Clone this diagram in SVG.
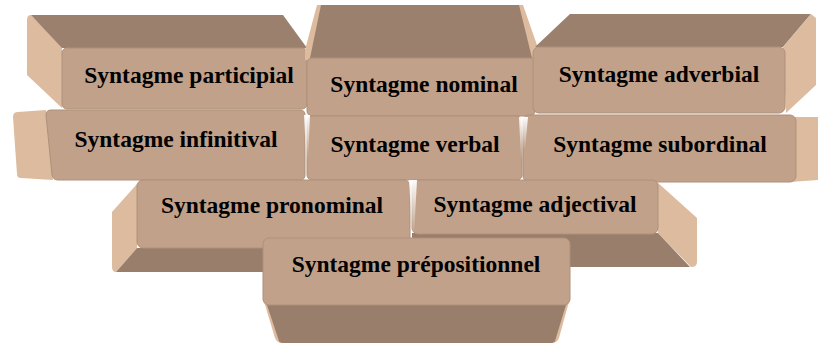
<svg xmlns="http://www.w3.org/2000/svg" width="818" height="345" viewBox="0 0 818 345">
<defs>
<linearGradient id="sideL" x1="0" y1="0" x2="1" y2="0"><stop offset="0" stop-color="#DCBA9C"/><stop offset="1" stop-color="#E2C2A6"/></linearGradient>
<linearGradient id="hl" x1="0" y1="0" x2="0" y2="1"><stop offset="0" stop-color="#FFFFFF" stop-opacity="0.95"/><stop offset="1" stop-color="#FFFFFF" stop-opacity="0"/></linearGradient>
</defs>
<style>
.top{fill:#9B806E}
.bot{fill:#9A7E6C}
.side{fill:#DDBB9E}
.front{fill:#C1A18A;stroke:#AE907B;stroke-width:1}
.lbl{font-family:"Liberation Serif","Times New Roman",serif;font-weight:bold;font-size:23.5px;fill:#000;text-anchor:middle}
.hl{fill:url(#hl)}
</style>
<rect width="818" height="345" fill="#FFFFFF"/>

<g id="n-participial">
<path class="side" d="M31,15 L62,46 L62,108 L27,75 L27,20 Q27,15 31,15 Z"/>
<path class="top" d="M31,15 L283,15 L307,48 L62,48 Z"/>
<rect class="front" x="62" y="48" width="245" height="61" rx="5"/>
<text class="lbl" x="189" y="83">Syntagme participial</text>
</g>

<g id="n-nominal">
<path class="side" d="M317,5 L523,5 L537,45 L537,60 L305,60 L305,50 Z"/>
<path class="top" d="M321,5 L519,5 L532,58 L310,58 Z"/>
<rect class="front" x="307" y="58" width="228" height="58" rx="5"/>
<text class="lbl" x="424" y="92">Syntagme nominal</text>
</g>

<g id="n-adverbial">
<path class="top" d="M570,14 L811,14 L783,47 L535,47 Z"/>
<path class="side" d="M811,14 L816,18 L816,85 L786,113 L783,47 Z"/>
<rect class="front" x="533" y="47" width="252" height="66" rx="6"/>
<text class="lbl" x="659" y="82">Syntagme adverbial</text>
</g>

<g id="n-infinitival">
<path class="side" d="M18,112 L46,110 L53,180 L21,178 Q17,178 17,174 L13,117 Q13,112 18,112 Z"/>
<path class="front" d="M51,110 L300,110 Q305,110 305,115 L305,175 Q305,180 300,180 L58,180 Q53,180 52,175 L46,115 Q46,110 51,110 Z"/>
<text class="lbl" x="176" y="147">Syntagme infinitival</text>
</g>

<g id="n-verbal">
<rect class="front" x="307" y="116" width="215" height="64" rx="5"/>
<path class="hl" d="M304,115 L310,115 L308,160 L306,160 Z"/>
<path class="hl" d="M519,117 L526,117 L523,160 L521,160 Z"/>
<text class="lbl" x="415" y="152">Syntagme verbal</text>
</g>

<g id="n-subordinal">
<path class="side" d="M794,117 L818,117 L818,180 L790,182 Z"/>
<rect class="front" x="523" y="115" width="273" height="67" rx="6"/>
<path class="hl" d="M521,117 L528,117 L525,150 L523,150 Z"/>
<text class="lbl" x="660" y="152">Syntagme subordinal</text>
</g>

<g id="n-pronominal">
<path class="side" d="M137,184 L137,248 L116,272 Q112,272 112,267 L112,212 Z"/>
<path class="bot" d="M137,248 L420,248 L420,272 L116,272 Z"/>
<rect class="front" x="137" y="180" width="273" height="68" rx="6"/>
<text class="lbl" x="272" y="213">Syntagme pronominal</text>
</g>

<g id="n-adjectival">
<path class="side" d="M657,182 L697,218 L697,262 Q697,267 691,267 L658,233 Z"/>
<path class="bot" d="M412,233 L658,233 L690,267 L412,267 Z"/>
<rect class="front" x="412" y="180" width="246" height="54" rx="6"/>
<path class="hl" d="M409,180 L417,180 L414,235 L412,235 Z"/>
<text class="lbl" x="535" y="212">Syntagme adjectival</text>
</g>

<g id="n-prepositionnel">
<path class="side" d="M263,298 L570,298 L559,338 Q557,343 552,343 L282,343 Q277,343 275,338 Z"/>
<path class="bot" d="M267,305 L566,305 L555,341 Q554,343 550,343 L284,343 Q280,343 279,341 Z"/>
<rect class="front" x="263" y="238" width="307" height="67" rx="6"/>
<text class="lbl" x="416" y="272">Syntagme prépositionnel</text>
</g>

<g id="connectors"></g>
</svg>
